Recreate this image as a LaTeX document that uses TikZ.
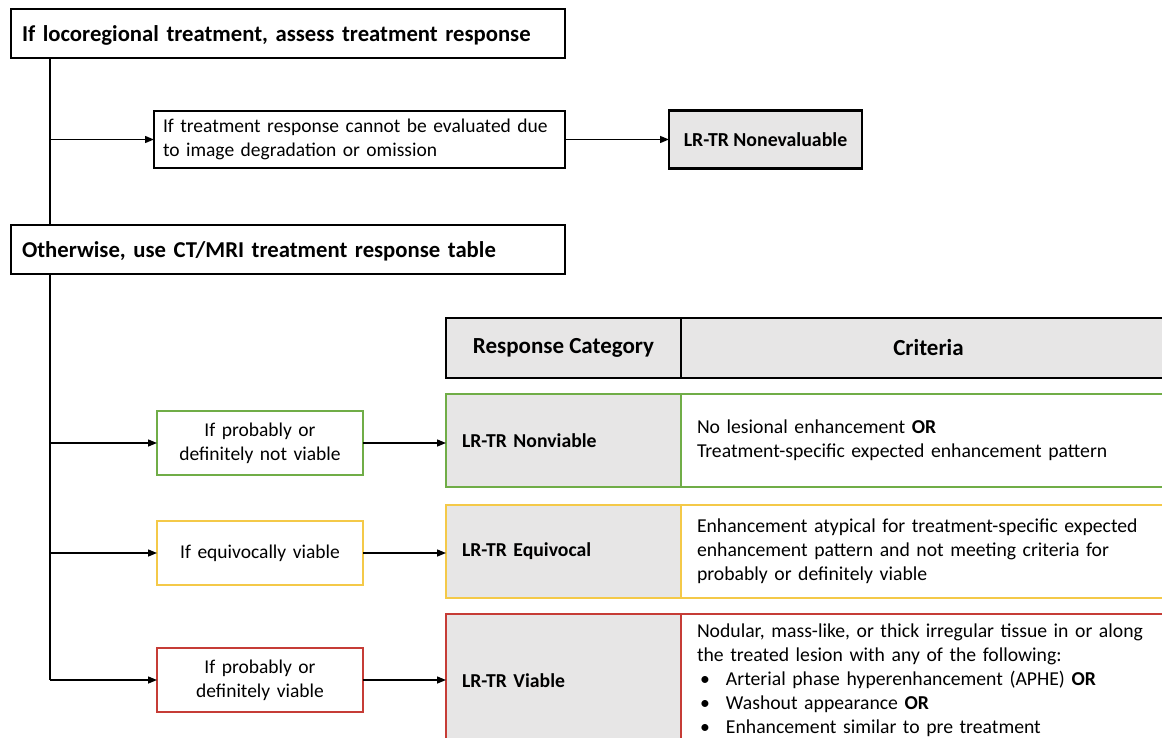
\documentclass[tikz,border=0pt]{standalone}
\usepackage{fontspec}
\setmainfont{Carlito}
\usetikzlibrary{arrows.meta,positioning}
\definecolor{okgreen}{RGB}{112,173,71}
\definecolor{eqyellow}{RGB}{244,201,72}
\definecolor{vbred}{RGB}{198,60,54}
\definecolor{cellgray}{RGB}{231,230,230}

\begin{document}
\begin{tikzpicture}[x=1pt, y=-1pt,
  hd/.style={rectangle, draw=black, line width=1.2pt, anchor=north west, outer sep=0pt,
    inner xsep=11pt, text width=532pt, minimum height=49pt, align=left, text depth=0pt,
    font=\fontsize{22.7}{26}\selectfont\bfseries},
  cond/.style={rectangle, draw=black, line width=1.2pt, anchor=north west, outer sep=0pt,
    inner xsep=9pt, text width=393pt, minimum height=57pt, align=left,
    font=\fontsize{19.5}{24}\selectfont},
  res/.style={rectangle, draw=black, fill=cellgray, line width=2.5pt, outer sep=0pt,
    minimum width=193pt, minimum height=58pt, font=\fontsize{19.8}{23}\selectfont\bfseries},
  pick/.style={rectangle, draw=#1, line width=2.5pt, anchor=north west, outer sep=0pt,
    inner xsep=8pt, text width=190pt, minimum height=64pt, align=center,
    font=\fontsize{19.5}{24}\selectfont},
  th/.style={rectangle, draw=black, fill=cellgray, line width=2.8pt, outer sep=0pt,
    minimum height=60pt, font=\fontsize{23}{26}\selectfont\bfseries},
  cat/.style={rectangle, draw=#1, fill=cellgray, line width=2.5pt, anchor=north west, outer sep=0pt,
    inner xsep=16pt, text width=203pt, align=left, font=\fontsize{19.7}{23}\selectfont\bfseries},
  crit/.style={rectangle, draw=#1, line width=2.5pt, outer sep=0pt,
    inner xsep=16pt, text width=463pt, align=left, font=\fontsize{19.7}{24}\selectfont},
  arr/.style={-{Triangle[length=9pt,width=7pt]}, line width=1.4pt}]
\useasboundingbox (0,0) rectangle (1162,738);
\fill[white] (0,0) rectangle (1162,738);
\clip (0,0) rectangle (1162,738);

% flow on the left
\node[hd] (lrt) at (11,9) {If locoregional treatment, assess treatment response};
\node[cond] (noeval) at (154,111) {If treatment response cannot be evaluated due\\to image degradation or omission};
\node[res, right=104pt of noeval] (ne) {LR-TR Nonevaluable};
\node[hd] (other) at (11,225) {Otherwise, use CT/MRI treatment response table};

\node[pick=okgreen] (ifnon) at (157,411) {If probably or\\definitely not viable};
\node[pick=eqyellow] (ifeq) at (157,521) {If equivocally viable};
\node[pick=vbred] (ifvb) at (157,648) {If probably or\\definitely viable};

% table
\node[th, anchor=north west, minimum width=235pt] (hcat) at (446,318) {Response Category};
\node[th, right=0pt of hcat, minimum width=495pt] (hcrit) {Criteria};

\node[cat=okgreen, minimum height=93pt] (tnon) at (446,394) {LR-TR Nonviable};
\node[crit=okgreen, right=0pt of tnon, minimum height=93pt] (cnon)
  {No lesional enhancement \textbf{OR}\\Treatment-specific expected enhancement pattern};
\node[cat=eqyellow, minimum height=93pt] (teq) at (446,505) {LR-TR Equivocal};
\node[crit=eqyellow, right=0pt of teq, minimum height=93pt] (ceq)
  {Enhancement atypical for treatment-specific expected\\enhancement pattern and not meeting criteria for\\probably or definitely viable};
\node[cat=vbred, minimum height=133pt] (tvb) at (446,614) {LR-TR Viable};
\node[crit=vbred, right=0pt of tvb, minimum height=133pt] (cvb)
  {Nodular, mass-like, or thick irregular tissue in or along\\the treated lesion with any of the following:\\
   \makebox[29pt][l]{\hspace{3pt}\textbullet}Arterial phase hyperenhancement (APHE) \textbf{OR}\\
   \makebox[29pt][l]{\hspace{3pt}\textbullet}Washout appearance \textbf{OR}\\
   \makebox[29pt][l]{\hspace{3pt}\textbullet}Enhancement similar to pre treatment};

% connectors
\draw[line width=1.4pt] (lrt.south west) ++(39,0) coordinate (j1) -- (j1 |- other.north);
\draw[arr] (j1 |- noeval.west) -- (noeval.west);
\draw[arr] (noeval.east) -- (ne.west);
\draw[line width=1.4pt] (other.south west) ++(39,0) coordinate (j2) -- (j2 |- ifvb.west);
\foreach \n in {ifnon,ifeq,ifvb} \draw[arr] (j2 |- \n.west) -- (\n.west);
\foreach \a/\b in {ifnon/tnon,ifeq/teq,ifvb/tvb} \draw[arr] (\a.east) -- (\a.east -| \b.west);
\end{tikzpicture}
\end{document}
